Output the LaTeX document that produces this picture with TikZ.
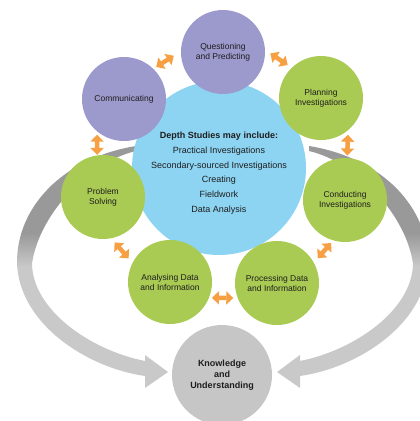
\documentclass[tikz,border=0pt]{standalone}
\usepackage{fontspec}
\setmainfont{Liberation Sans}
\usepackage{tikz}
\usetikzlibrary{arrows.meta, calc}

\definecolor{stagepurple}{HTML}{9C99CC}
\definecolor{stagegreen}{HTML}{AACB53}
\definecolor{depthblue}{HTML}{8DD4F2}
\definecolor{knowgray}{HTML}{C6C6C6}
\definecolor{ringdark}{HTML}{999999}
\definecolor{ringlight}{HTML}{C9C9C9}
\definecolor{linkorange}{HTML}{F6A043}
\definecolor{textdark}{HTML}{1E1E1E}

\pgfdeclareverticalshading{ringfade}{100bp}{color(0bp)=(ringlight); color(50bp)=(ringlight); color(57bp)=(ringdark); color(100bp)=(ringdark)}

\tikzset{
  stage/.style={circle, minimum size=84pt, inner sep=0pt, outer sep=0pt, align=center, text=textdark, font=\fontsize{8.5}{10}\selectfont},
  purplestage/.style={stage, fill=stagepurple},
  greenstage/.style={stage, fill=stagegreen},
  depth/.style={circle, fill=depthblue, minimum size=174pt, inner sep=0pt, align=center, text=textdark, font=\fontsize{9}{14.7}\selectfont},
  know/.style={circle, fill=knowgray, minimum size=100pt, inner sep=0pt, align=center, text=textdark, font=\bfseries\fontsize{9}{11}\selectfont},
  twoway/.style={draw=linkorange, line width=4.5pt, <->, >={Triangle[length=7pt,width=13pt]}},
  ringarrow/.style={shading=ringfade}
}

\begin{document}
\begin{tikzpicture}[x=1pt, y=-1pt]
        \useasboundingbox (0,0) rectangle (420,421);
        \clip (0,0) rectangle (420,421);

        \shade[ringarrow] (136,146) .. controls (62,158) and (16,208) .. (17,264)
            .. controls (20,325) and (88,368) .. (145,376) -- (145,388) -- (168,372) -- (145,355) -- (145,361)
            .. controls (90,350) and (33,310) .. (32,264) .. controls (38,218) and (85,163) .. (136,151) -- cycle;
        \shade[ringarrow] (309,146) .. controls (383,158) and (429,208) .. (428,264)
            .. controls (425,325) and (357,368) .. (300,376) -- (300,388) -- (277,372) -- (300,355) -- (300,361)
            .. controls (355,350) and (412,310) .. (413,264) .. controls (407,218) and (360,163) .. (309,151) -- cycle;

        \node[depth] (depth) at (219,168) {\rule{0pt}{17pt}\textbf{Depth Studies may include:}\\ Practical Investigations\\ Secondary-sourced Investigations\\ Creating\\ Fieldwork\\ Data Analysis};

        \node[purplestage] (quest) at (223,52) {Questioning\\ and Predicting};
        \node[greenstage] (planning) at (321,98) {Planning\\ Investigations};
        \node[greenstage] (conducting) at (345,200) {Conducting\\ Investigations};
        \node[greenstage] (processing) at (277,283) {Processing Data\\ and Information};
        \node[greenstage] (analysing) at (170,282) {Analysing Data\\ and Information};
        \node[greenstage] (problem) at (103,197) {Problem\\ Solving};
        \node[purplestage] (comm) at (124,99) {Communicating};

        \node[know] (know) at (222,375) {Knowledge\\ and\\ Understanding};

        \draw[twoway, shorten <=3.5pt, shorten >=8.5pt] (comm.46) -- (quest.179);
        \draw[twoway, shorten <=6.5pt, shorten >=5pt] (quest.3) -- (planning.134);
        \draw[twoway, shorten <=4.5pt, shorten >=2.5pt] (planning.310) -- (conducting.87);
        \draw[twoway, shorten <=3.5pt, shorten >=6pt] (conducting.254) -- (processing.29);
        \draw[twoway, shorten <=4.5pt, shorten >=3pt] (processing.201) -- (analysing.338);
        \draw[twoway, shorten <=6pt, shorten >=5.5pt] (analysing.153) -- (problem.281);
        \draw[twoway, shorten <=0.5pt, shorten >=3.5pt] (problem.98) -- (comm.230);
\end{tikzpicture}
\end{document}
